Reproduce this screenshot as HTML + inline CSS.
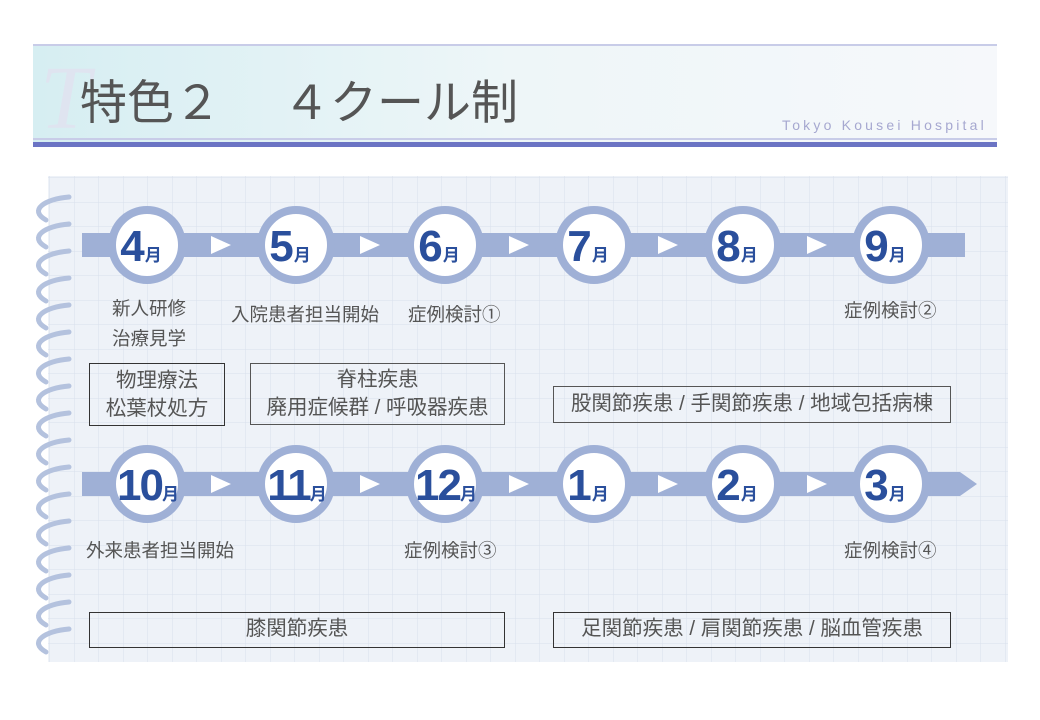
<!DOCTYPE html>
<html><head><meta charset="utf-8"><style>
body{margin:0;width:1040px;height:720px;background:#fff;position:relative;overflow:hidden;font-family:"Liberation Sans","Noto Sans CJK JP",sans-serif;}
.t{position:absolute;color:#555;font-size:18.5px;white-space:nowrap;}
.box{position:absolute;border:1px solid #333;color:#555;font-size:20.5px;text-align:center;line-height:28px;box-sizing:border-box;white-space:nowrap;}
</style></head><body>
<svg width="1040" height="720" style="position:absolute;left:0;top:0">
<defs>
<pattern id="g" x="50" y="178" width="24.5" height="24.5" patternUnits="userSpaceOnUse">
<path d="M24.5 0V24.5H0" fill="none" stroke="#d8e0ec" stroke-width="1"/>
</pattern>
<linearGradient id="hd" x1="0" x2="1" y1="0" y2="0">
<stop offset="0" stop-color="#d6eef2"/><stop offset="0.5" stop-color="#eef6f8"/><stop offset="1" stop-color="#f6f8fb"/>
</linearGradient>
</defs>
<rect x="33" y="44" width="964" height="100" fill="url(#hd)"/>
<rect x="33" y="44" width="964" height="2" fill="#c8cce8"/>
<rect x="33" y="138" width="964" height="2" fill="#c8cce8"/>
<rect x="33" y="142" width="964" height="5" fill="#6b74c4"/>
<text x="40" y="128" font-family="Liberation Serif" font-style="italic" font-size="90" fill="#dfe4f0">T</text>
<rect x="48" y="176" width="960" height="486" fill="#eef2f8"/>
<rect x="48" y="176" width="960" height="486" fill="url(#g)"/>
<g fill="none" stroke="#b4c2de" stroke-width="5" stroke-linecap="round">
<path d="M69 197 C 45 199, 28 210, 46 220"/><path d="M69 224 C 45 226, 28 237, 46 247"/><path d="M69 251 C 45 253, 28 264, 46 274"/><path d="M69 278 C 45 280, 28 291, 46 301"/><path d="M69 305 C 45 307, 28 318, 46 328"/><path d="M69 332 C 45 334, 28 345, 46 355"/><path d="M69 359 C 45 361, 28 372, 46 382"/><path d="M69 386 C 45 388, 28 399, 46 409"/><path d="M69 413 C 45 415, 28 426, 46 436"/><path d="M69 440 C 45 442, 28 453, 46 463"/><path d="M69 467 C 45 469, 28 480, 46 490"/><path d="M69 494 C 45 496, 28 507, 46 517"/><path d="M69 521 C 45 523, 28 534, 46 544"/><path d="M69 548 C 45 550, 28 561, 46 571"/><path d="M69 575 C 45 577, 28 588, 46 598"/><path d="M69 602 C 45 604, 28 615, 46 625"/><path d="M69 629 C 45 631, 28 642, 46 652"/>
</g>
<rect x="82" y="233" width="883" height="24" fill="#9fb0d6"/>
<polygon points="82,472 960,472 977,484 960,496 82,496" fill="#9fb0d6"/>
<g fill="#fff">
<polygon points="211,236 231,245 211,254"/><polygon points="360,236 380,245 360,254"/><polygon points="509,236 529,245 509,254"/><polygon points="658,236 678,245 658,254"/><polygon points="807,236 827,245 807,254"/>
<polygon points="211,475 231,484 211,493"/><polygon points="360,475 380,484 360,493"/><polygon points="509,475 529,484 509,493"/><polygon points="658,475 678,484 658,493"/><polygon points="807,475 827,484 807,493"/>
</g>
<g fill="#fff" stroke="#9fb0d6" stroke-width="8">
<circle cx="147" cy="245" r="35"/><circle cx="296" cy="245" r="35"/><circle cx="445" cy="245" r="35"/><circle cx="594" cy="245" r="35"/><circle cx="743" cy="245" r="35"/><circle cx="891" cy="245" r="35"/>
<circle cx="147" cy="484" r="35"/><circle cx="296" cy="484" r="35"/><circle cx="445" cy="484" r="35"/><circle cx="594" cy="484" r="35"/><circle cx="743" cy="484" r="35"/><circle cx="891" cy="484" r="35"/>
</g>
<g font-family="Liberation Sans Narrow, Liberation Sans" font-weight="bold" fill="#2a4f9c" font-size="44" text-anchor="middle">
<text x="141" y="261">4<tspan font-size="17" font-family="Noto Sans CJK JP">月</tspan></text>
<text x="290" y="261">5<tspan font-size="17" font-family="Noto Sans CJK JP">月</tspan></text>
<text x="439" y="261">6<tspan font-size="17" font-family="Noto Sans CJK JP">月</tspan></text>
<text x="588" y="261">7<tspan font-size="17" font-family="Noto Sans CJK JP">月</tspan></text>
<text x="737" y="261">8<tspan font-size="17" font-family="Noto Sans CJK JP">月</tspan></text>
<text x="885" y="261">9<tspan font-size="17" font-family="Noto Sans CJK JP">月</tspan></text>
<text x="147" y="500" letter-spacing="-2">10<tspan font-size="17" font-family="Noto Sans CJK JP">月</tspan></text>
<text x="296" y="500" letter-spacing="-2">11<tspan font-size="17" font-family="Noto Sans CJK JP">月</tspan></text>
<text x="445" y="500" letter-spacing="-2">12<tspan font-size="17" font-family="Noto Sans CJK JP">月</tspan></text>
<text x="588" y="500">1<tspan font-size="17" font-family="Noto Sans CJK JP">月</tspan></text>
<text x="737" y="500">2<tspan font-size="17" font-family="Noto Sans CJK JP">月</tspan></text>
<text x="885" y="500">3<tspan font-size="17" font-family="Noto Sans CJK JP">月</tspan></text>
</g>
</svg>
<div class="t" style="left:80px;top:64px;font-size:47px;color:#555;">特色２<span style="margin-left:62px">４クール制</span></div>
<div class="t" style="left:782px;top:117px;font-size:14px;color:#a6a8d0;letter-spacing:3.2px;font-family:'Liberation Sans',sans-serif;">Tokyo  Kousei Hospital</div>

<div class="t" style="left:112px;top:295px;">新人研修</div>
<div class="t" style="left:112px;top:325px;">治療見学</div>
<div class="t" style="left:231px;top:301px;">入院患者担当開始</div>
<div class="t" style="left:408px;top:301px;">症例検討①</div>
<div class="t" style="left:844px;top:297px;">症例検討②</div>
<div class="t" style="left:86px;top:537px;">外来患者担当開始</div>
<div class="t" style="left:404px;top:537px;">症例検討③</div>
<div class="t" style="left:844px;top:537px;">症例検討④</div>

<div class="box" style="left:89px;top:363px;width:136px;height:63px;padding-top:3px;">物理療法<br>松葉杖処方</div>
<div class="box" style="left:250px;top:363px;width:255px;height:62px;padding-top:2px;border-color:#555;">脊柱疾患<br>廃用症候群 / 呼吸器疾患</div>
<div class="box" style="left:553px;top:386px;width:398px;height:37px;padding-top:3px;border-color:#555;">股関節疾患 / 手関節疾患 / 地域包括病棟</div>
<div class="box" style="left:89px;top:612px;width:416px;height:36px;padding-top:2px;">膝関節疾患</div>
<div class="box" style="left:553px;top:612px;width:398px;height:36px;padding-top:2px;">足関節疾患 / 肩関節疾患 / 脳血管疾患</div>
</body></html>
